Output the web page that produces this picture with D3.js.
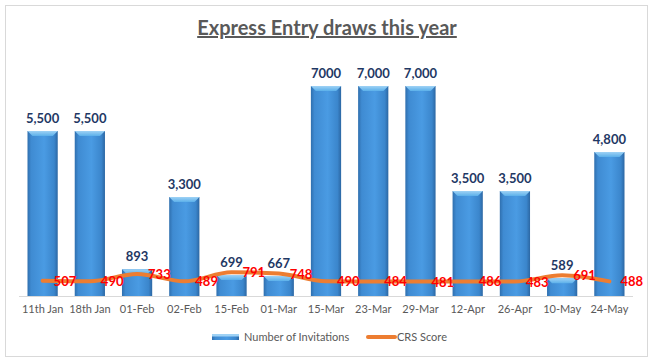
<!DOCTYPE html>
<html>
<head>
<meta charset="utf-8">
<script src="https://cdn.jsdelivr.net/npm/d3@7"></script>
<style>
  body { margin: 0; background: #fff; }
  svg { display: block; font-family: Lato, "Open Sans", sans-serif; }
</style>
</head>
<body>
<svg id="chart" width="655" height="363"></svg>
<script>
// chart data
const categories = ['11th Jan', '18th Jan', '01-Feb', '02-Feb', '15-Feb', '01-Mar', '15-Mar', '23-Mar', '29-Mar', '12-Apr', '26-Apr', '10-May', '24-May'];
const invitations = [5500, 5500, 893, 3300, 699, 667, 7000, 7000, 7000, 3500, 3500, 589, 4800];
const invitationLabels = ['5,500', '5,500', '893', '3,300', '699', '667', '7000', '7,000', '7,000', '3,500', '3,500', '589', '4,800'];
const crsScores = [507, 490, 733, 489, 791, 748, 490, 484, 481, 486, 483, 691, 488];

const width = 655;
const height = 363;
const margin = { top: 56, right: 22, bottom: 67, left: 19 };

const svg = d3.select('#chart');

// gradient for the bevelled bars
const defs = svg.append('defs');
const barGrad = defs.append('linearGradient')
  .attr('id', 'barGrad')
  .attr('x1', '0%').attr('x2', '100%').attr('y1', '0%').attr('y2', '0%');
barGrad.append('stop').attr('offset', '0%').attr('stop-color', '#2f6fae');
barGrad.append('stop').attr('offset', '12%').attr('stop-color', '#3f8bd2');
barGrad.append('stop').attr('offset', '55%').attr('stop-color', '#4a9be3');
barGrad.append('stop').attr('offset', '88%').attr('stop-color', '#3b86cc');
barGrad.append('stop').attr('offset', '100%').attr('stop-color', '#2c67a3');
const capGrad = defs.append('linearGradient')
  .attr('id', 'capGrad')
  .attr('x1', '0%').attr('x2', '0%').attr('y1', '0%').attr('y2', '100%');
capGrad.append('stop').attr('offset', '0%').attr('stop-color', '#9fd2f5');
capGrad.append('stop').attr('offset', '100%').attr('stop-color', '#5bb0ea');

// outer frame
svg.append('rect')
  .attr('x', 5.5).attr('y', 5.5)
  .attr('width', 642).attr('height', 351)
  .attr('fill', '#fff')
  .attr('stroke', '#d9d9d9');

// title
svg.append('text')
  .attr('x', 327)
  .attr('y', 35)
  .attr('text-anchor', 'middle')
  .attr('fill', '#595959')
  .style('font-size', '20px')
  .style('font-weight', 'bold')
  .style('text-decoration', 'underline')
  .text('Express Entry draws this year');

const x = d3.scaleBand()
  .domain(categories)
  .range([margin.left, width - margin.right])
  .paddingInner(0.36)
  .paddingOuter(0.18);

const y = d3.scaleLinear()
  .domain([0, 8000])
  .range([height - margin.bottom, margin.top]);

// bars
const bars = svg.append('g').attr('class', 'bars')
  .selectAll('g')
  .data(categories)
  .join('g');

bars.append('rect')
  .attr('x', d => x(d))
  .attr('y', (d, i) => y(invitations[i]))
  .attr('width', x.bandwidth())
  .attr('height', (d, i) => y(0) - y(invitations[i]))
  .attr('fill', 'url(#barGrad)');

// top bevel
bars.append('path')
  .attr('d', (d, i) => {
    const x0 = x(d), x1 = x0 + x.bandwidth(), t = y(invitations[i]);
    const b = Math.min(5, (y(0) - t) / 2);
    return `M${x0},${t}L${x1},${t}L${x1 - b},${t + b}L${x0 + b},${t + b}Z`;
  })
  .attr('fill', 'url(#capGrad)');

// x axis
const xAxis = svg.append('g')
  .attr('transform', `translate(0,${y(0)})`)
  .call(d3.axisBottom(x).tickSize(0).tickPadding(9));
xAxis.select('.domain').attr('stroke', '#d9d9d9').attr('d', `M${margin.left},0.5H${width - margin.right}`);
xAxis.selectAll('text')
  .attr('fill', '#595959')
  .style('font-size', '11px')
  .style('font-family', 'Lato, sans-serif');

// invitation labels
svg.append('g').selectAll('text')
  .data(categories)
  .join('text')
  .attr('x', d => x(d) + x.bandwidth() / 2)
  .attr('y', (d, i) => y(invitations[i]) - 8)
  .attr('text-anchor', 'middle')
  .attr('fill', '#1f3864')
  .style('font-size', '13px')
  .style('font-weight', 'bold')
  .text((d, i) => invitationLabels[i]);

// CRS line
const line = d3.line()
  .x((d, i) => x(categories[i]) + x.bandwidth() / 2)
  .y(d => y(d))
  .curve(d3.curveMonotoneX);

svg.append('path')
  .datum(crsScores)
  .attr('d', line)
  .attr('fill', 'none')
  .attr('stroke', '#ed7d31')
  .attr('stroke-width', 4)
  .attr('stroke-linecap', 'round');

// CRS labels
svg.append('g').selectAll('text')
  .data(crsScores)
  .join('text')
  .attr('x', (d, i) => x(categories[i]) + x.bandwidth() / 2 + 11)
  .attr('y', d => y(d) + 5)
  .attr('fill', '#ff0000')
  .style('font-size', '13px')
  .style('font-weight', 'bold')
  .text(d => d);

// legend
const legend = svg.append('g').attr('class', 'legend');
legend.append('rect')
  .attr('x', 212).attr('y', 334)
  .attr('width', 27).attr('height', 6)
  .attr('fill', 'url(#barGrad)');
legend.append('rect')
  .attr('x', 212).attr('y', 334)
  .attr('width', 27).attr('height', 2.5)
  .attr('fill', '#9fd2f5');
legend.append('text')
  .attr('x', 244).attr('y', 341)
  .attr('fill', '#595959')
  .style('font-size', '11px')
  .text('Number of Invitations');
legend.append('line')
  .attr('x1', 368).attr('x2', 395)
  .attr('y1', 337).attr('y2', 337)
  .attr('stroke', '#ed7d31')
  .attr('stroke-width', 4)
  .attr('stroke-linecap', 'round');
legend.append('text')
  .attr('x', 397).attr('y', 341)
  .attr('fill', '#595959')
  .style('font-size', '11px')
  .text('CRS Score');
</script>
</body>
</html>
